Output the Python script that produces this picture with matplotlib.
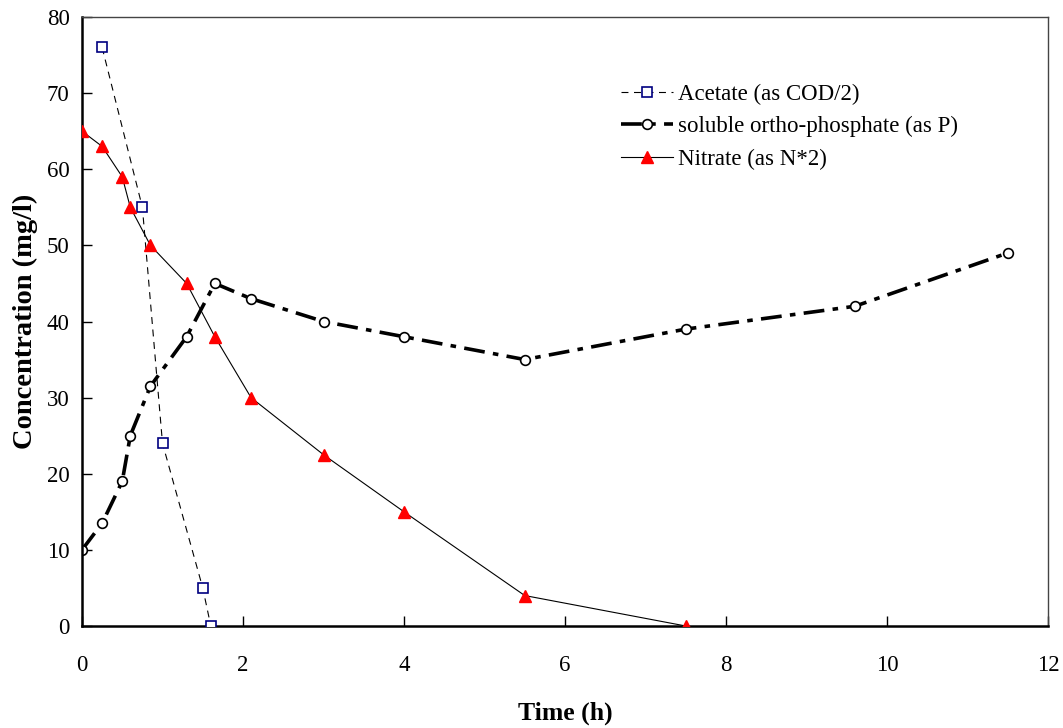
import matplotlib.pyplot as plt

plt.rcParams['font.family'] = ['Liberation Serif', 'DejaVu Serif']
plt.rcParams['lines.scale_dashes'] = False

# time points (h) and concentrations (mg/l)
t_acetate = [0.25, 0.75, 1.0, 1.5, 1.6]
acetate = [76, 55, 24, 5, 0]

t_phos = [0, 0.25, 0.5, 0.6, 0.85, 1.3, 1.65, 2.1, 3, 4, 5.5, 7.5, 9.6, 11.5]
phos = [10, 13.5, 19, 25, 31.5, 38, 45, 43, 40, 38, 35, 39, 42, 49]

t_nitrate = [0, 0.25, 0.5, 0.6, 0.85, 1.3, 1.65, 2.1, 3, 4, 5.5, 7.5]
nitrate = [65, 63, 59, 55, 50, 45, 38, 30, 22.5, 15, 4, 0]

fig = plt.figure(figsize=(10.63, 7.28), dpi=100)
ax = fig.add_axes([82 / 1063, 1 - 626 / 728, (1048 - 82) / 1063, (626 - 17) / 728])

ax.plot(t_acetate, acetate, color='black', lw=0.8, dashes=[5, 4],
        marker='s', ms=7, mfc='white', mec='#000080', mew=1.2,
        label='Acetate (as COD/2)', zorder=3)
ax.plot(t_phos, phos, color='black', lw=2.6, dashes=[15, 6, 4, 6],
        marker='o', ms=7, mfc='white', mec='black', mew=1.2,
        label='soluble ortho-phosphate (as P)', zorder=2)
ax.plot(t_nitrate, nitrate, color='black', lw=0.8,
        marker='^', ms=9, mfc='red', mec='red',
        label='Nitrate (as N*2)', zorder=3)

ax.set_xlim(0, 12)
ax.set_ylim(0, 80)
ax.set_xticks(range(0, 13, 2))
ax.set_yticks(range(0, 81, 10))
ax.tick_params(direction='in', length=7, width=1, labelsize=16.5, pad=9,
               top=False, right=False)
ax.tick_params(axis='x', pad=21)

for side in ('left', 'bottom'):
    ax.spines[side].set_linewidth(1.8)
for side in ('top', 'right'):
    ax.spines[side].set_linewidth(1.0)
    ax.spines[side].set_color('#444444')

ax.set_xlabel('Time (h)', fontsize=18.5, fontweight='bold', labelpad=18)
ax.set_ylabel('Concentration (mg/l)', fontsize=20.5, fontweight='bold', labelpad=6)

ax.legend(loc='upper left', bbox_to_anchor=((600 - 82) / 966, 1 - (63 - 17) / 609),
          frameon=False, fontsize=16.5, handlelength=2.3, handletextpad=0.2,
          labelspacing=0.5)

fig.savefig('out.png', dpi=100)
